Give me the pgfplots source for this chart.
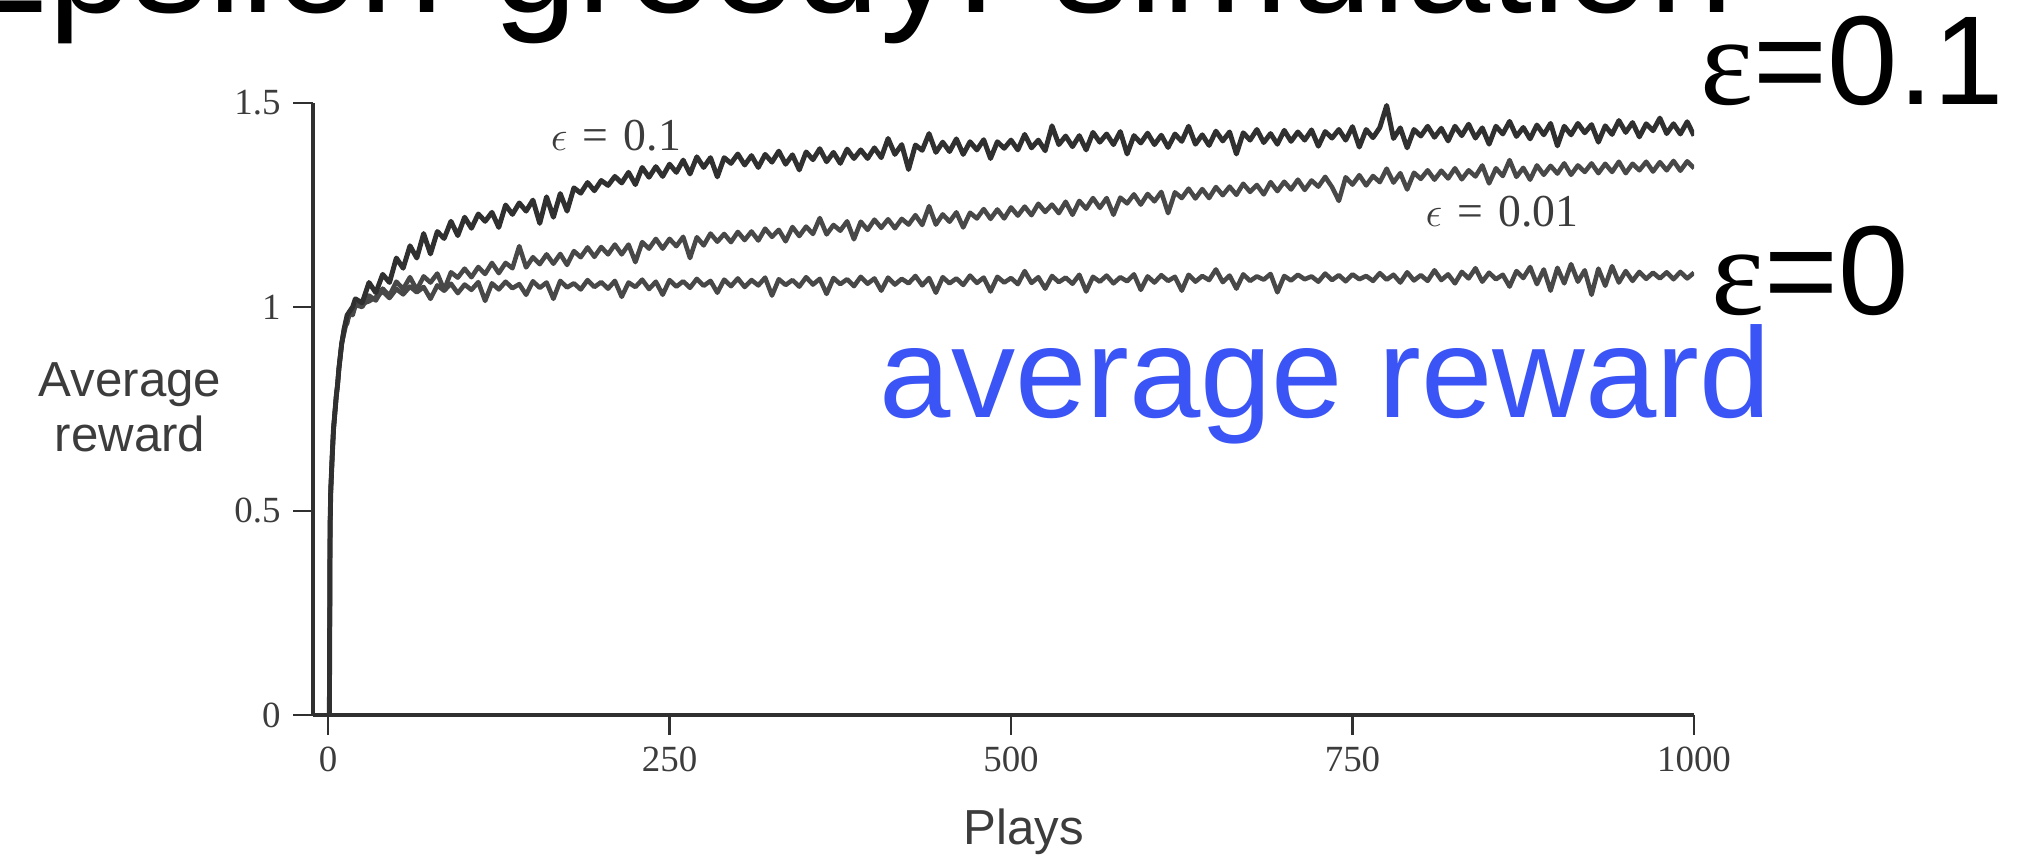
\documentclass[border=0pt]{standalone}
\usepackage{fontspec}
\setmainfont{Liberation Serif}
\newfontfamily\arial{Liberation Sans}
\usepackage{pgfplots}
\pgfplotsset{compat=1.18}
\usepackage{pgfplotstable}

\definecolor{ink}{HTML}{303030}
\definecolor{inkb}{HTML}{484848}
\definecolor{lbl}{HTML}{3C3C3C}
\definecolor{blueann}{HTML}{3B54F5}

% average reward over plays; a: eps=0.1, b: eps=0.01, c: eps=0
\pgfplotstableread{
x a b c
1 0 0 0
1.5 0.46 0.46 0.46
2 0.55 0.55 0.55
3 0.63 0.63 0.63
4 0.70 0.70 0.70
5 0.74 0.74 0.74
6 0.78 0.78 0.78
7 0.81 0.81 0.81
8 0.85 0.85 0.85
9 0.88 0.88 0.88
10 0.91 0.91 0.91
12 0.95 0.94 0.95
14 0.98 0.97 0.96
16 0.99 0.98 0.99
18 1.00 0.99 0.98
20 1.020 1.005 1.003
25 1.010 1.000 1.008
30 1.060 1.028 1.014
35 1.035 1.016 1.024
40 1.080 1.045 1.038
45 1.060 1.028 1.022
50 1.120 1.062 1.044
55 1.095 1.044 1.031
60 1.150 1.073 1.050
65 1.120 1.042 1.036
70 1.180 1.075 1.049
75 1.130 1.060 1.020
80 1.185 1.082 1.053
85 1.168 1.042 1.040
90 1.210 1.085 1.057
95 1.175 1.072 1.034
100 1.220 1.094 1.055
105 1.193 1.073 1.042
110 1.228 1.098 1.061
115 1.210 1.081 1.015
120 1.232 1.108 1.058
125 1.195 1.083 1.043
130 1.250 1.108 1.062
135 1.227 1.095 1.046
140 1.255 1.149 1.056
145 1.235 1.097 1.030
150 1.262 1.122 1.063
155 1.205 1.105 1.047
160 1.270 1.129 1.060
165 1.220 1.106 1.020
170 1.278 1.130 1.064
175 1.235 1.103 1.048
180 1.292 1.137 1.058
185 1.279 1.122 1.043
190 1.305 1.146 1.066
195 1.285 1.123 1.049
200 1.310 1.147 1.061
205 1.298 1.129 1.045
210 1.320 1.153 1.064
215 1.304 1.129 1.025
220 1.330 1.153 1.060
225 1.300 1.110 1.049
230 1.342 1.159 1.067
235 1.318 1.143 1.044
240 1.344 1.167 1.062
245 1.320 1.143 1.030
250 1.350 1.167 1.066
255 1.330 1.149 1.050
260 1.360 1.172 1.063
265 1.326 1.120 1.047
270 1.368 1.171 1.069
275 1.342 1.151 1.052
280 1.366 1.180 1.064
285 1.319 1.160 1.035
290 1.366 1.179 1.067
295 1.352 1.159 1.051
300 1.375 1.184 1.070
305 1.348 1.164 1.049
310 1.371 1.185 1.066
315 1.342 1.163 1.053
320 1.374 1.192 1.072
325 1.355 1.172 1.028
330 1.382 1.189 1.068
335 1.350 1.161 1.054
340 1.373 1.196 1.066
345 1.336 1.174 1.050
350 1.380 1.197 1.073
355 1.361 1.179 1.055
360 1.388 1.218 1.069
365 1.356 1.178 1.032
370 1.379 1.201 1.071
375 1.352 1.187 1.056
380 1.387 1.210 1.068
385 1.364 1.166 1.051
390 1.385 1.209 1.074
395 1.364 1.189 1.057
400 1.390 1.214 1.070
405 1.366 1.194 1.040
410 1.413 1.215 1.072
415 1.374 1.193 1.055
420 1.398 1.216 1.069
425 1.337 1.202 1.058
430 1.397 1.225 1.076
435 1.384 1.201 1.053
440 1.425 1.247 1.071
445 1.379 1.202 1.035
450 1.404 1.227 1.073
455 1.381 1.209 1.058
460 1.412 1.232 1.070
465 1.374 1.195 1.054
470 1.405 1.231 1.077
475 1.385 1.217 1.059
480 1.410 1.240 1.072
485 1.364 1.216 1.038
490 1.405 1.239 1.074
495 1.389 1.217 1.060
500 1.409 1.244 1.071
505 1.385 1.224 1.056
510 1.423 1.246 1.088
515 1.390 1.225 1.059
520 1.409 1.253 1.073
525 1.383 1.233 1.045
530 1.444 1.251 1.076
535 1.398 1.230 1.061
540 1.419 1.258 1.072
545 1.393 1.226 1.057
550 1.420 1.260 1.079
555 1.385 1.241 1.038
560 1.428 1.267 1.074
565 1.404 1.243 1.062
570 1.424 1.267 1.077
575 1.398 1.226 1.058
580 1.430 1.268 1.073
585 1.375 1.254 1.063
590 1.420 1.276 1.080
595 1.402 1.251 1.042
600 1.426 1.277 1.075
605 1.398 1.259 1.060
610 1.421 1.282 1.078
615 1.391 1.230 1.064
620 1.424 1.281 1.074
625 1.406 1.267 1.040
630 1.443 1.290 1.079
635 1.399 1.266 1.062
640 1.422 1.289 1.076
645 1.396 1.267 1.066
650 1.431 1.294 1.092
655 1.407 1.274 1.061
660 1.429 1.295 1.077
665 1.375 1.275 1.045
670 1.427 1.302 1.080
675 1.409 1.282 1.064
680 1.435 1.299 1.075
685 1.403 1.276 1.067
690 1.425 1.306 1.081
695 1.399 1.284 1.036
700 1.433 1.307 1.076
705 1.406 1.288 1.065
710 1.429 1.312 1.079
715 1.409 1.287 1.068
720 1.434 1.310 1.075
725 1.394 1.295 1.062
730 1.430 1.319 1.082
735 1.414 1.294 1.066
740 1.435 1.260 1.078
745 1.409 1.318 1.063
750 1.442 1.300 1.080
755 1.392 1.323 1.068
760 1.435 1.298 1.076
765 1.415 1.321 1.064
770 1.440 1.306 1.083
775 1.494 1.339 1.067
780 1.413 1.305 1.079
785 1.439 1.328 1.060
790 1.390 1.288 1.085
795 1.435 1.329 1.065
800 1.419 1.314 1.078
805 1.443 1.335 1.064
810 1.416 1.312 1.090
815 1.438 1.334 1.066
820 1.407 1.315 1.080
825 1.443 1.340 1.058
830 1.420 1.313 1.086
835 1.448 1.335 1.070
840 1.414 1.320 1.095
845 1.439 1.347 1.062
850 1.399 1.303 1.084
855 1.443 1.340 1.068
860 1.424 1.321 1.079
865 1.455 1.360 1.050
870 1.418 1.319 1.088
875 1.440 1.341 1.071
880 1.412 1.312 1.098
885 1.446 1.347 1.056
890 1.422 1.324 1.092
895 1.450 1.346 1.040
900 1.395 1.327 1.096
905 1.443 1.352 1.058
910 1.422 1.324 1.105
915 1.450 1.347 1.062
920 1.427 1.331 1.090
925 1.447 1.352 1.030
930 1.404 1.328 1.094
935 1.444 1.351 1.052
940 1.423 1.331 1.100
945 1.457 1.356 1.060
950 1.428 1.328 1.088
955 1.452 1.351 1.064
960 1.417 1.335 1.086
965 1.449 1.356 1.069
970 1.432 1.332 1.084
975 1.463 1.355 1.070
980 1.425 1.335 1.085
985 1.449 1.358 1.068
990 1.424 1.334 1.086
995 1.454 1.357 1.070
1000 1.420 1.340 1.084
}\rewards

\begin{document}
\begin{tikzpicture}
\path[use as bounding box] (0,0) rectangle (20.29,8.58);
\clip (0,0) rectangle (20.29,8.58);

\begin{axis}[
    at={(3.13cm,1.43cm)}, anchor=south west,
    scale only axis,
    width=13.81cm, height=6.12cm,
    xmin=-11, xmax=1000,
    ymin=0, ymax=1.5,
    axis x line*=bottom, axis y line*=left,
    axis line style={line width=0.9pt, ink},
    xtick={0,250,500,750,1000},
    ytick={0,0.5,1,1.5},
    tick align=outside,
    major tick length=0.2cm,
    tick style={line width=0.8pt, ink},
    ticklabel style={font=\fontsize{10.5}{12}\selectfont, text=lbl},
    /pgf/number format/assume math mode=true,
    /pgf/number format/1000 sep={},
    scaled ticks=false,
    line join=round,
]
\addplot[inkb, line width=1.3pt] table[x=x, y=c] {\rewards};
\addplot[inkb, line width=1.3pt] table[x=x, y=b] {\rewards};
\addplot[ink, line width=1.4pt] table[x=x, y=a] {\rewards};
\end{axis}

% labels of the scanned figure
\node[anchor=base, font=\fontsize{13}{15}\selectfont, text=lbl] at (6.16,7.07) {$\epsilon$\,\,=\,\,0.1};
\node[anchor=base, font=\fontsize{13}{15}\selectfont, text=lbl] at (15.02,6.31) {$\epsilon$\,\,=\,\,0.01};
\node[anchor=base, font=\arial\fontsize{14}{16}\selectfont, text=lbl] at (1.30,4.61) {Average};
\node[anchor=base, font=\arial\fontsize{14}{16}\selectfont, text=lbl] at (1.30,4.06) {reward};
\node[anchor=base, font=\arial\fontsize{14}{16}\selectfont, text=lbl] at (10.24,0.13) {Plays};

% slide overlay
\node[anchor=base west, inner sep=0pt, font=\arial\fontsize{43}{48}\selectfont] at (-0.53,8.45) {Epsilon-greedy: simulation};
\node[anchor=base west, inner sep=0pt, font=\fontsize{36}{40}\selectfont] at (17.00,7.53) {ε\arial =0.1};
\node[anchor=base west, inner sep=0pt, font=\fontsize{36}{40}\selectfont] at (17.11,5.43) {ε\arial =0};
\node[anchor=base west, inner sep=0pt, font=\arial\fontsize{36.5}{40}\selectfont, text=blueann] at (8.79,4.40) {average reward};
\end{tikzpicture}
\end{document}
